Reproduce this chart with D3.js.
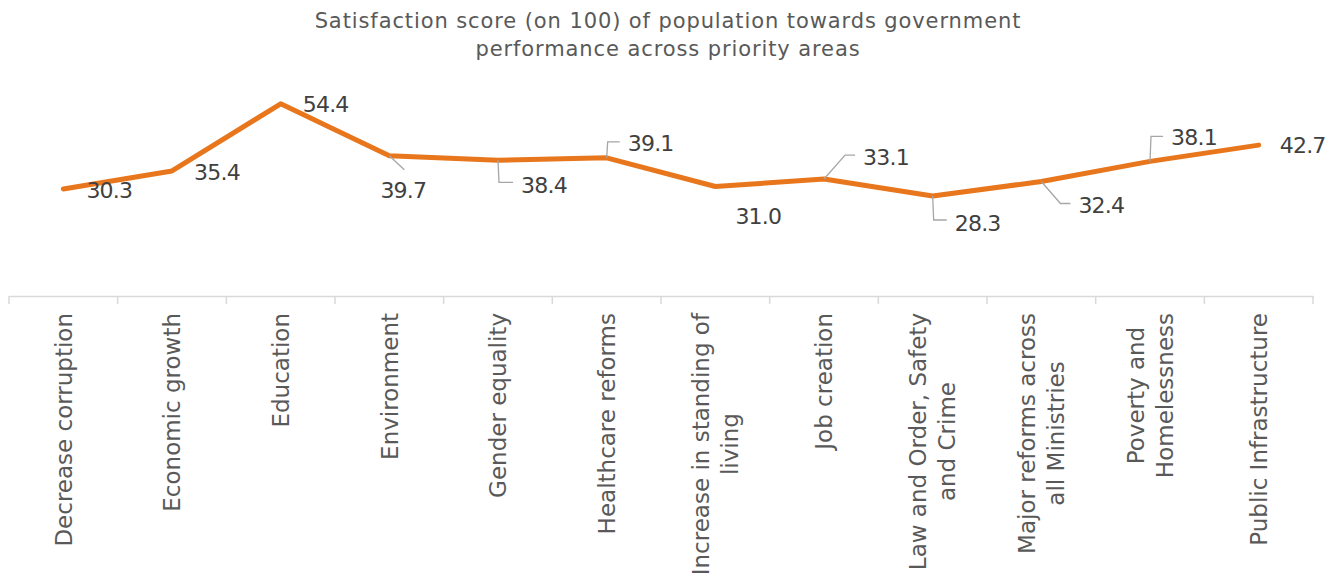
<!DOCTYPE html>
<html>
<head>
<meta charset="utf-8">
<script src="https://cdn.jsdelivr.net/npm/d3@7"></script>
<style>
  html, body { margin: 0; padding: 0; background: #ffffff; }
  svg { display: block; font-family: "DejaVu Sans", sans-serif; }
</style>
</head>
<body>
<svg id="chart" width="1343" height="578"></svg>
<script>
// Chart data
const titleLines = [
  "Satisfaction score (on 100) of population towards government",
  "performance across priority areas"
];
const categories = [
  "Decrease corruption",
  "Economic growth",
  "Education",
  "Environment",
  "Gender equality",
  "Healthcare reforms",
  "Increase in standing of\nliving",
  "Job creation",
  "Law and Order, Safety\nand Crime",
  "Major reforms across\nall Ministries",
  "Poverty and\nHomelessness",
  "Public Infrastructure"
];
const scores = [30.3, 35.4, 54.4, 39.7, 38.4, 39.1, 31.0, 33.1, 28.3, 32.4, 38.1, 42.7];

// Data label placement: offset of the label centre from its point, and leader style
const labelLayout = [
  { dx: 46, dy: 1,   leader: "none" },
  { dx: 45, dy: 1,   leader: "none" },
  { dx: 45, dy: 0,   leader: "none" },
  { dx: 14, dy: 34,  leader: "short" },
  { dx: 46, dy: 25,  leader: "elbow" },
  { dx: 44, dy: -15, leader: "elbow" },
  { dx: 43, dy: 30,  leader: "none" },
  { dx: 62, dy: -22, leader: "diag" },
  { dx: 45, dy: 27,  leader: "elbow" },
  { dx: 60, dy: 24,  leader: "diag" },
  { dx: 44, dy: -24, leader: "elbow" },
  { dx: 44, dy: 0,   leader: "none" }
];

const svg = d3.select("#chart");
const axisY = 296;

const x = d3.scaleBand()
  .domain(categories)
  .range([9, 1313])
  .paddingInner(0)
  .paddingOuter(0);

const y = d3.scaleLinear()
  .domain([0, 60])
  .range([axisY, 84]);

// Title
svg.append("text")
  .attr("x", 668)
  .attr("text-anchor", "middle")
  .attr("fill", "#595959")
  .style("font-size", "21px")
  .style("letter-spacing", "0.9px")
  .selectAll("tspan")
  .data(titleLines)
  .join("tspan")
  .attr("x", 668)
  .attr("y", (d, i) => 28 + i * 28)
  .text(d => d);

// Category axis
const axis = d3.axisBottom(x).tickSize(0).tickSizeOuter(0).tickFormat("");
const gAxis = svg.append("g")
  .attr("transform", `translate(0,${axisY})`)
  .call(axis);
gAxis.select(".domain").attr("stroke", "#d9d9d9").attr("stroke-width", 1.5);
gAxis.selectAll(".tick").remove();

// Boundary tick marks between categories
const bounds = categories.map(c => x(c)).concat([x(categories[categories.length - 1]) + x.bandwidth()]);
gAxis.selectAll("line.bound")
  .data(bounds)
  .join("line")
  .attr("class", "bound")
  .attr("x1", d => d).attr("x2", d => d)
  .attr("y1", 0).attr("y2", 8)
  .attr("stroke", "#d9d9d9")
  .attr("stroke-width", 1.5);

// Rotated category labels, wrapped lines centred on each other
const catSize = 23;
const lineGap = 29;
const catGroups = svg.append("g").selectAll("g.cat")
  .data(categories)
  .join("g")
  .attr("class", "cat")
  .attr("transform", d => `translate(${x(d) + x.bandwidth() / 2},313) rotate(-90)`);

catGroups.each(function(d) {
  const g = d3.select(this);
  const lines = d.split("\n");
  const t = g.append("text")
    .attr("fill", "#595959")
    .attr("text-anchor", "middle")
    .style("font-size", catSize + "px");
  const spans = t.selectAll("tspan")
    .data(lines)
    .join("tspan")
    .attr("y", (l, i) => (i - (lines.length - 1) / 2) * lineGap + 0.36 * catSize)
    .text(l => l);
  let longest = 0;
  spans.each(function() { longest = Math.max(longest, this.getComputedTextLength()); });
  spans.attr("x", -longest / 2);
});

// Score line
const line = d3.line()
  .x((d, i) => x(categories[i]) + x.bandwidth() / 2)
  .y(d => y(d));

svg.append("path")
  .datum(scores)
  .attr("d", line)
  .attr("fill", "none")
  .attr("stroke", "#E8761C")
  .attr("stroke-width", 5)
  .attr("stroke-linejoin", "round")
  .attr("stroke-linecap", "round");

// Data labels with leader lines
const labelSize = 22;
const gLabels = svg.append("g");
scores.forEach((v, i) => {
  const px = x(categories[i]) + x.bandwidth() / 2;
  const py = y(v);
  const lay = labelLayout[i];
  const cx = px + lay.dx;
  const cy = py + lay.dy;
  const t = gLabels.append("text")
    .attr("x", cx)
    .attr("y", cy + 0.36 * labelSize)
    .attr("text-anchor", "middle")
    .attr("fill", "#404040")
    .style("font-size", labelSize + "px")
    .style("letter-spacing", "-0.8px")
    .text(d3.format(".1f")(v));
  const w = t.node().getComputedTextLength();
  const left = cx - w / 2;
  let path = null;
  if (lay.leader === "elbow") {
    const ly = cy - (lay.dy > 0 ? 3 : 1);
    path = `M${px},${py} L${px + 1},${ly} H${left - 8}`;
  } else if (lay.leader === "diag") {
    const ly = cy - 2;
    path = `M${px},${py} L${left - 18},${ly} H${left - 8}`;
  } else if (lay.leader === "short") {
    path = `M${px},${py} L${cx + 1},${cy - 20}`;
  }
  if (path) {
    gLabels.insert("path", "text")
      .attr("d", path)
      .attr("fill", "none")
      .attr("stroke", "#a6a6a6")
      .attr("stroke-width", 1.3);
  }
});
</script>
</body>
</html>
